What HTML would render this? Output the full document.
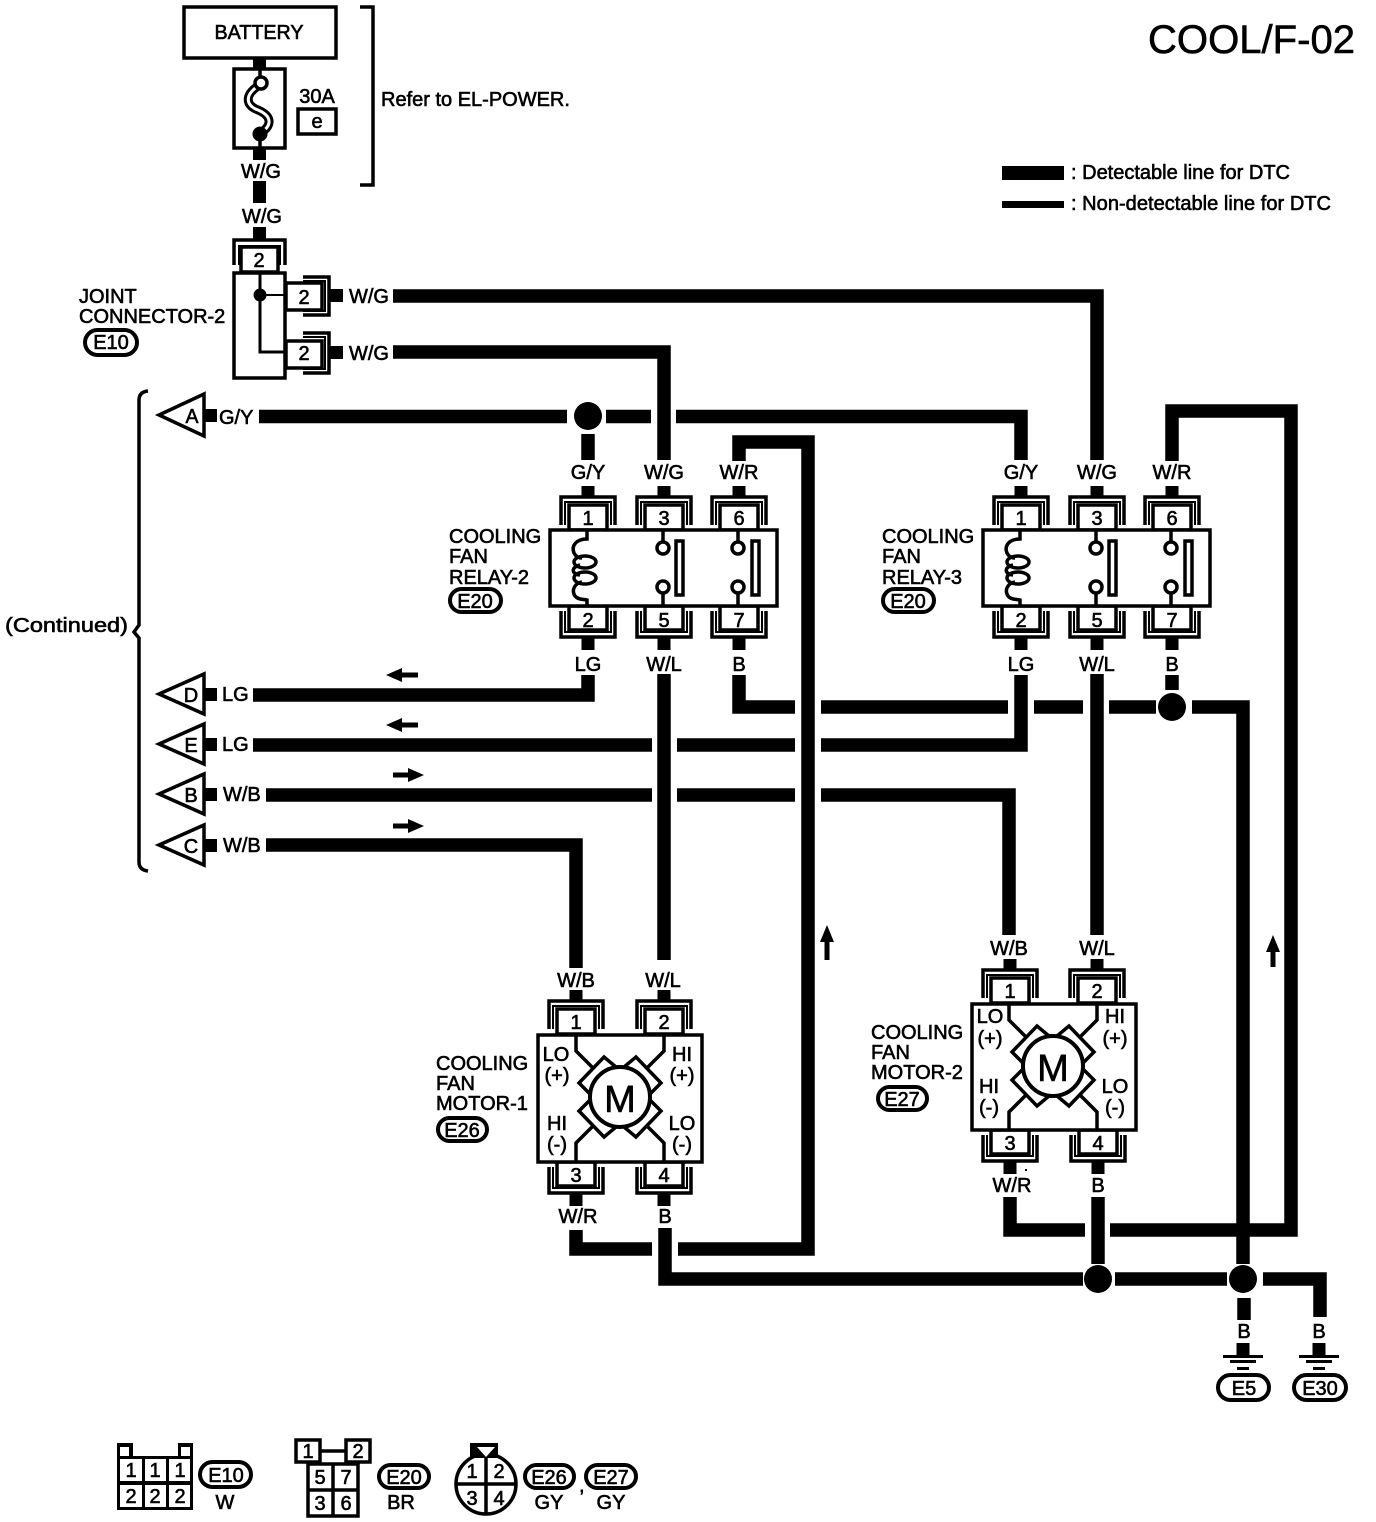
<!DOCTYPE html>
<html>
<head>
<meta charset="utf-8">
<title>COOL/F-02</title>
<style>
html,body{margin:0;padding:0;background:#fff}
svg{display:block}
text{font-family:"Liberation Sans",sans-serif;font-size:20px;fill:#000;stroke:#000;stroke-width:.6}
.c{text-anchor:middle}
.w{fill:none;stroke:#000;stroke-width:13.5}
.l{fill:none;stroke:#000;stroke-width:3.5}
.b{fill:#fff;stroke:#000;stroke-width:3.5}
.t{fill:#fff;stroke:#000;stroke-width:4}
</style>
</head>
<body>
<svg width="1376" height="1522" viewBox="0 0 1376 1522" xmlns="http://www.w3.org/2000/svg">
<defs>
<g id="ct">
<path class="l" d="M-27 -5V-33H27V-5"/>
<path fill="none" stroke="#000" stroke-width="2" d="M-23 -5V-28H23V-5"/>
<rect class="b" x="-19" y="-25" width="38" height="25"/>
<rect x="-6.500" y="-44" width="13" height="11"/>
</g>
<g id="cb">
<path class="l" d="M-27 5V31H27V5"/>
<path fill="none" stroke="#000" stroke-width="2" d="M-23 5V26H23V5"/>
<rect class="b" x="-19" y="0" width="38" height="24"/>
<rect x="-6.500" y="31" width="13" height="13"/>
</g>
<g id="relayc">
<path class="l" d="M38 1V9C27 9 22 16 25 23C27 27 30 28 33 28"/>
<path class="l" d="M31 35C22 37 22 44 31 45"/>
<path class="l" d="M33 52C26 53 22 60 26 66C29 70 35 69 38 70V76"/>
<ellipse class="l" cx="36" cy="32" rx="11" ry="6"/>
<ellipse class="l" cx="36" cy="48" rx="11" ry="6"/>
<path class="l" d="M114 1V12M114 63V76"/>
<circle class="b" cx="114" cy="18" r="6"/>
<circle class="b" cx="114" cy="57" r="6"/>
<rect class="b" x="127" y="11" width="7" height="54"/>
<path class="l" d="M189 1V12M189 63V76"/>
<circle class="b" cx="189" cy="18" r="6"/>
<circle class="b" cx="189" cy="57" r="6"/>
<rect class="b" x="203" y="11" width="7" height="54"/>
</g>
<g id="motor">
<path class="l" d="M-44 -62V-46L-26 -28M44 -62V-46L26 -28M-44 64V46L-26 28M44 64V46L26 28"/>
<path class="b" d="M-41 -14L-16 -40L-4 -30L-30 -3Z"/>
<path class="b" d="M41 -14L16 -40L4 -30L30 -3Z"/>
<path class="b" d="M-41 14L-16 40L-4 30L-30 3Z"/>
<path class="b" d="M41 14L16 40L4 30L30 3Z"/>
<circle cx="0" cy="0" r="30" fill="#fff" stroke="#000" stroke-width="4"/>
</g>
<g id="gnd">
<rect x="-6.500" y="0" width="13" height="12"/>
<rect x="-20" y="12" width="40" height="3"/>
<rect x="-13" y="17" width="26" height="3"/>
<rect x="-6" y="24" width="12" height="3"/>
</g>
</defs>

<!-- title / legend -->
<text x="1148" y="53" style="font-size:40px" textLength="207" lengthAdjust="spacingAndGlyphs">COOL/F-02</text>
<rect x="1002" y="166" width="62" height="14"/>
<rect x="1002" y="201" width="62" height="7"/>
<text x="1071" y="179" textLength="219">: Detectable line for DTC</text>
<text x="1071" y="210" textLength="260">: Non-detectable line for DTC</text>

<!-- battery -->
<rect class="b" x="184" y="7" width="152" height="51"/>
<text class="c" x="259" y="39" textLength="89" lengthAdjust="spacingAndGlyphs">BATTERY</text>
<rect x="253" y="58" width="13" height="10"/>
<rect class="b" x="234" y="69" width="51" height="79"/>
<path fill="none" stroke="#000" stroke-width="9" d="M258 86C245 95 245 105 258 110C272 116 272 125 262 132"/>
<path fill="none" stroke="#fff" stroke-width="3" d="M258 86C245 95 245 105 258 110C272 116 272 125 262 132"/>
<path class="l" d="M260 69V78M260 138V148"/>
<circle class="b" cx="261" cy="83" r="6"/>
<circle cx="260" cy="134" r="7.500"/>
<rect x="253" y="148" width="13" height="12"/>
<text class="c" x="261" y="178">W/G</text>
<rect x="253" y="181" width="13" height="22"/>
<text class="c" x="262" y="223">W/G</text>
<rect x="253" y="227" width="13" height="12"/>
<text class="c" x="317" y="103">30A</text>
<rect class="b" x="298" y="109" width="38" height="25"/>
<text class="c" x="317" y="128">e</text>
<path class="l" d="M360 7H373V185H360"/>
<text x="381" y="106">Refer to EL-POWER.</text>

<!-- joint connector -->
<path class="l" d="M234 265V240H285V265"/>
<path fill="none" stroke="#000" stroke-width="2" d="M239 265V246H280V265"/>
<rect class="b" x="241" y="247" width="37" height="25"/>
<text class="c" x="259" y="267">2</text>
<rect class="b" x="234" y="273" width="51" height="105"/>
<path fill="none" stroke="#000" stroke-width="3" d="M260 273V352H288"/>
<path fill="none" stroke="#000" stroke-width="2" d="M260 295H288"/>
<circle cx="260" cy="295" r="6.500"/>
<path class="l" d="M303 277H329V315H303"/>
<path fill="none" stroke="#000" stroke-width="2" d="M303 281H325V311H303"/>
<rect class="b" x="286" y="283" width="36" height="27"/>
<text class="c" x="304" y="304">2</text>
<path class="l" d="M303 333H329V373H303"/>
<path fill="none" stroke="#000" stroke-width="2" d="M303 337H325V369H303"/>
<rect class="b" x="286" y="341" width="36" height="27"/>
<text class="c" x="304" y="360">2</text>
<rect x="329" y="289" width="14" height="13"/>
<rect x="329" y="346" width="14" height="13"/>
<text x="349" y="303">W/G</text>
<text x="349" y="360">W/G</text>
<text x="79" y="303">JOINT</text>
<text x="79" y="323">CONNECTOR-2</text>
<rect class="t" x="85" y="330" width="52" height="25" rx="12.500"/>
<text class="c" x="111" y="349">E10</text>

<!-- left brace -->
<path class="l" d="M148 391Q139 392 139 400V625L134 632L139 638V862Q139 870 148 871"/>
<text x="5" y="632" textLength="123" lengthAdjust="spacingAndGlyphs">(Continued)</text>

<!-- triangle terminals -->
<g>
<path class="b" d="M159 415L204 394V436Z"/>
<text class="c" x="192" y="423" textLength="13" lengthAdjust="spacingAndGlyphs">A</text>
<rect x="205" y="409" width="12" height="13"/>
<path class="b" d="M159 694L204 674V714Z"/>
<text class="c" x="191" y="702">D</text>
<rect x="205" y="688" width="12" height="13"/>
<path class="b" d="M159 744L204 724V764Z"/>
<text class="c" x="191" y="752">E</text>
<rect x="205" y="738" width="12" height="13"/>
<path class="b" d="M159 794L204 774V814Z"/>
<text class="c" x="191" y="802">B</text>
<rect x="205" y="788" width="12" height="13"/>
<path class="b" d="M159 845L204 825V865Z"/>
<text class="c" x="191" y="853">C</text>
<rect x="205" y="839" width="12" height="13"/>
</g>
<text x="219" y="424">G/Y</text>
<text x="222" y="701">LG</text>
<text x="222" y="751">LG</text>
<text x="223" y="801">W/B</text>
<text x="223" y="852">W/B</text>

<!-- wires -->
<path class="w" d="M393 296H1097V460"/>
<path class="w" d="M393 352H664V460"/>
<path class="w" d="M259 416.500H567"/>
<path class="w" d="M606 416.500H651"/>
<path class="w" d="M676 416.500H1021V460"/>
<path class="w" d="M588 434V460"/>
<path class="w" d="M739 461V442H808V1249H678"/>
<path class="w" d="M1172 461V411H1291V1230H1110"/>
<path class="w" d="M1085 1230H1010V1197"/>
<path class="w" d="M253 695H588V675"/>
<path class="w" d="M253 745H652"/>
<path class="w" d="M677 745H795"/>
<path class="w" d="M821 745H1021V675"/>
<path class="w" d="M266 795H652"/>
<path class="w" d="M677 795H795"/>
<path class="w" d="M821 795H1009V935"/>
<path class="w" d="M266 845H576V968"/>
<path class="w" d="M664 674V960"/>
<path class="w" d="M1097 674V935"/>
<path class="w" d="M739 675V707H795"/>
<path class="w" d="M821 707H1008"/>
<path class="w" d="M1034 707H1083"/>
<path class="w" d="M1109 707H1156"/>
<path class="w" d="M1192 707H1243V1264"/>
<path class="w" d="M1172 675V690"/>
<path class="w" d="M576 1230V1249H652"/>
<path class="w" d="M665 1228V1279H1083"/>
<path class="w" d="M1098 1197V1264"/>
<path class="w" d="M1115 1279H1227"/>
<path class="w" d="M1263 1279H1320V1317"/>
<path class="w" d="M1244 1298V1320"/>
<circle cx="588" cy="416" r="14"/>
<circle cx="1172" cy="707" r="14"/>
<circle cx="1098" cy="1279" r="14"/>
<circle cx="1243" cy="1279" r="14"/>

<!-- flow arrows -->
<path d="M386 675L402 668V672.500H418V677.500H402V682Z"/>
<path d="M386 725L402 718V722.500H418V727.500H402V732Z"/>
<path d="M424 775L408 768V772.500H393V777.500H408V782Z"/>
<path d="M424 826L408 819V823.500H393V828.500H408V833Z"/>
<path d="M827 925L820 942H824.500V960H829.500V942H834Z"/>
<path d="M1273 935L1266 952H1270.500V967H1275.500V952H1280Z"/>

<!-- relay 2 -->
<use href="#ct" x="588" y="530"/><use href="#ct" x="664" y="530"/><use href="#ct" x="739" y="530"/>
<use href="#cb" x="588" y="606"/><use href="#cb" x="664" y="606"/><use href="#cb" x="739" y="606"/>
<rect class="b" x="550" y="530" width="227" height="76"/>
<use href="#relayc" x="549" y="530"/>
<text class="c" x="588" y="479">G/Y</text><text class="c" x="664" y="479">W/G</text><text class="c" x="739" y="479">W/R</text>
<text class="c" x="588" y="525">1</text><text class="c" x="664" y="525">3</text><text class="c" x="739" y="525">6</text>
<text class="c" x="588" y="627">2</text><text class="c" x="664" y="627">5</text><text class="c" x="739" y="627">7</text>
<text class="c" x="588" y="671">LG</text><text class="c" x="664" y="671">W/L</text><text class="c" x="739" y="671">B</text>
<text x="449" y="543">COOLING</text><text x="449" y="563">FAN</text><text x="449" y="584">RELAY-2</text>
<rect class="t" x="450" y="589" width="51" height="23" rx="11.500"/>
<text class="c" x="475" y="608">E20</text>

<!-- relay 3 -->
<use href="#ct" x="1021" y="530"/><use href="#ct" x="1097" y="530"/><use href="#ct" x="1172" y="530"/>
<use href="#cb" x="1021" y="606"/><use href="#cb" x="1097" y="606"/><use href="#cb" x="1172" y="606"/>
<rect class="b" x="983" y="530" width="227" height="76"/>
<use href="#relayc" x="982" y="530"/>
<text class="c" x="1021" y="479">G/Y</text><text class="c" x="1097" y="479">W/G</text><text class="c" x="1172" y="479">W/R</text>
<text class="c" x="1021" y="525">1</text><text class="c" x="1097" y="525">3</text><text class="c" x="1172" y="525">6</text>
<text class="c" x="1021" y="627">2</text><text class="c" x="1097" y="627">5</text><text class="c" x="1172" y="627">7</text>
<text class="c" x="1021" y="671">LG</text><text class="c" x="1097" y="671">W/L</text><text class="c" x="1172" y="671">B</text>
<text x="882" y="543">COOLING</text><text x="882" y="563">FAN</text><text x="882" y="584">RELAY-3</text>
<rect class="t" x="883" y="589" width="51" height="23" rx="11.500"/>
<text class="c" x="908" y="608">E20</text>

<!-- motor 1 -->
<use href="#ct" x="576" y="1034"/><use href="#ct" x="664" y="1034"/>
<use href="#cb" x="576" y="1162"/><use href="#cb" x="664" y="1162"/>
<rect class="b" x="538" y="1035" width="164" height="127"/>
<use href="#motor" x="620" y="1097"/>
<text class="c" x="620" y="1112" style="font-size:38px">M</text>
<text class="c" x="576" y="987">W/B</text><text class="c" x="663" y="987">W/L</text>
<text class="c" x="576" y="1029">1</text><text class="c" x="664" y="1029">2</text>
<text class="c" x="576" y="1182">3</text><text class="c" x="664" y="1182">4</text>
<text class="c" x="578" y="1223">W/R</text><text class="c" x="665" y="1223">B</text>
<text class="c" x="556" y="1061">LO</text><text class="c" x="557" y="1082">(+)</text>
<text class="c" x="682" y="1061">HI</text><text class="c" x="682" y="1082">(+)</text>
<text class="c" x="557" y="1130">HI</text><text class="c" x="557" y="1151">(-)</text>
<text class="c" x="682" y="1130">LO</text><text class="c" x="682" y="1151">(-)</text>
<text x="436" y="1070">COOLING</text><text x="436" y="1090">FAN</text><text x="436" y="1110">MOTOR-1</text>
<rect class="t" x="438" y="1118" width="49" height="23" rx="11.500"/>
<text class="c" x="462" y="1137">E26</text>

<!-- motor 2 -->
<use href="#ct" x="1010" y="1003"/><use href="#ct" x="1097" y="1003"/>
<use href="#cb" x="1010" y="1130"/><use href="#cb" x="1098" y="1130"/>
<rect class="b" x="972" y="1004" width="164" height="126"/>
<use href="#motor" x="1053" y="1066"/>
<text class="c" x="1053" y="1081" style="font-size:38px">M</text>
<text class="c" x="1009" y="955">W/B</text><text class="c" x="1097" y="955">W/L</text>
<text class="c" x="1010" y="998">1</text><text class="c" x="1097" y="998">2</text>
<text class="c" x="1010" y="1150">3</text><text class="c" x="1098" y="1150">4</text>
<text class="c" x="1012" y="1192">W/R</text><text class="c" x="1098" y="1192">B</text>
<rect x="1025" y="1169" width="2" height="2"/>
<text class="c" x="990" y="1023">LO</text><text class="c" x="990" y="1045">(+)</text>
<text class="c" x="1115" y="1023">HI</text><text class="c" x="1115" y="1045">(+)</text>
<text class="c" x="989" y="1093">HI</text><text class="c" x="989" y="1114">(-)</text>
<text class="c" x="1115" y="1093">LO</text><text class="c" x="1115" y="1114">(-)</text>
<text x="871" y="1039">COOLING</text><text x="871" y="1059">FAN</text><text x="871" y="1079">MOTOR-2</text>
<rect class="t" x="878" y="1087" width="49" height="23" rx="11.500"/>
<text class="c" x="902" y="1106">E27</text>

<!-- grounds -->
<text class="c" x="1244" y="1338">B</text>
<text class="c" x="1319" y="1338">B</text>
<use href="#gnd" x="1243" y="1343"/>
<use href="#gnd" x="1319" y="1343"/>
<rect class="t" x="1218" y="1375" width="51" height="25" rx="12.500"/>
<text class="c" x="1244" y="1395">E5</text>
<rect class="t" x="1294" y="1375" width="52" height="25" rx="12.500"/>
<text class="c" x="1320" y="1395">E30</text>

<!-- connector icons -->
<rect x="117" y="1456" width="76" height="54"/>
<rect x="117" y="1443" width="16" height="14"/>
<rect x="178" y="1443" width="15" height="14"/>
<rect x="120" y="1447" width="9" height="9" fill="#fff"/>
<rect x="181" y="1447" width="9" height="9" fill="#fff"/>
<g fill="#fff">
<rect x="120" y="1459" width="22" height="22"/><rect x="145" y="1459" width="21" height="22"/><rect x="169" y="1459" width="21" height="22"/>
<rect x="120" y="1485" width="22" height="22"/><rect x="145" y="1485" width="21" height="22"/><rect x="169" y="1485" width="21" height="22"/>
</g>
<text class="c" x="131" y="1477">1</text><text class="c" x="155" y="1477">1</text><text class="c" x="180" y="1477">1</text>
<text class="c" x="131" y="1503">2</text><text class="c" x="155" y="1503">2</text><text class="c" x="180" y="1503">2</text>
<rect class="t" x="200" y="1462" width="51" height="25" rx="12.500"/>
<text class="c" x="226" y="1482">E10</text>
<text class="c" x="225" y="1509">W</text>

<rect class="b" x="296" y="1440" width="24" height="22"/>
<rect class="b" x="346" y="1440" width="24" height="22"/>
<path class="l" d="M320 1451H346"/>
<rect class="b" x="308" y="1464" width="50" height="52"/>
<path class="l" d="M333 1464V1516M308 1490H358"/>
<text class="c" x="308" y="1458">1</text><text class="c" x="358" y="1458">2</text>
<text class="c" x="320" y="1484">5</text><text class="c" x="346" y="1484">7</text>
<text class="c" x="320" y="1510">3</text><text class="c" x="346" y="1510">6</text>
<rect class="t" x="379" y="1465" width="50" height="23" rx="11.500"/>
<text class="c" x="404" y="1484">E20</text>
<text class="c" x="401" y="1509">BR</text>

<circle class="b" cx="486" cy="1484" r="30"/>
<path class="l" d="M486 1454V1514M456 1484H516"/>
<rect x="470" y="1443" width="28" height="15"/>
<path d="M477 1447H495L486 1457Z" fill="#fff"/>
<text class="c" x="472" y="1478">1</text><text class="c" x="499" y="1478">2</text>
<text class="c" x="472" y="1505">3</text><text class="c" x="499" y="1505">4</text>
<rect class="t" x="525" y="1465" width="49" height="23" rx="11.500"/>
<text class="c" x="549" y="1484">E26</text>
<text class="c" x="549" y="1509">GY</text>
<text x="579" y="1492">,</text>
<rect class="t" x="586" y="1465" width="50" height="23" rx="11.500"/>
<text class="c" x="611" y="1484">E27</text>
<text class="c" x="611" y="1509">GY</text>
</svg>
</body>
</html>
